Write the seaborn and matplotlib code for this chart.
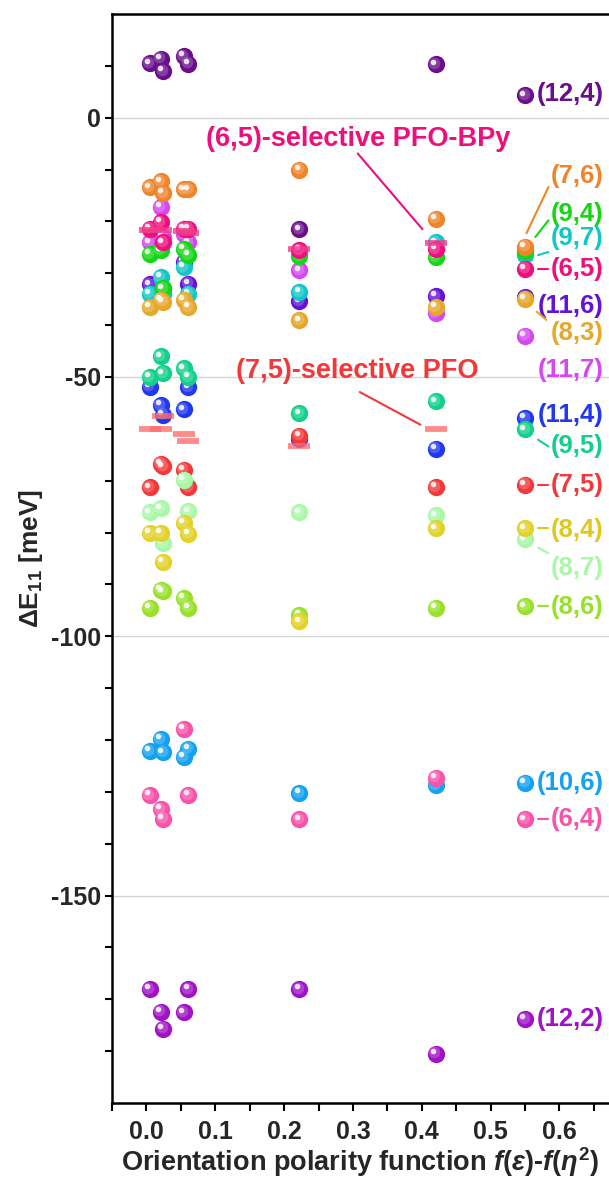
import numpy as np
import pandas as pd
import matplotlib
matplotlib.use("Agg")
import matplotlib.pyplot as plt
import seaborn as sns
from matplotlib import transforms
from matplotlib.colors import to_rgb

# ---------------- data ----------------
solvent_x = [0.005, 0.021, 0.024, 0.054, 0.061, 0.222, 0.42, 0.55]

chiralities = ["(12,4)", "(11,6)", "(11,7)", "(9,7)", "(9,4)", "(7,6)", "(8,3)", "(6,5)",
               "(11,4)", "(9,5)", "(7,5)", "(8,7)", "(8,6)", "(8,4)", "(10,6)", "(6,4)", "(12,2)"]

dE_12_4 = [10.5, 11.4, 9.0, 11.9, 10.4, -21.5, 10.3, 4.3]
dE_11_6 = [-32.1, -32.5, -33.0, -27.8, -32.0, -35.4, -34.4, -34.5]
dE_11_7 = [-24.0, -17.2, -23.0, -22.5, -24.0, -29.4, -37.7, -42.0]
dE_9_7 = [-33.9, -30.7, -34.0, -28.8, -33.9, -33.6, -24.0, -26.5]
dE_9_4 = [-26.3, -25.6, -32.9, -25.3, -26.5, -26.7, -26.9, -25.7]
dE_7_6 = [-13.4, -12.3, -14.5, -13.8, -13.8, -10.0, -19.5, -24.9]
dE_8_3 = [-36.5, -35.1, -35.5, -35.1, -36.5, -39.1, -36.5, -34.9]
dE_6_5 = [-21.4, -20.1, -24.0, -21.4, -21.4, -25.5, -25.3, -29.1]
dE_11_4 = [-51.9, -55.4, -57.3, -56.2, -52.0, -62.0, -63.8, -57.9]
dE_9_5 = [-50.0, -46.0, -49.3, -48.3, -50.0, -57.0, -54.7, -60.1]
dE_7_5 = [-71.3, -66.7, -67.2, -67.9, -71.3, -61.3, -71.2, -70.8]
dE_8_7 = [-76.1, -75.3, -82.0, -69.8, -75.9, -76.1, -76.7, -81.3]
dE_8_6 = [-94.5, -91.0, -91.3, -92.6, -94.5, -95.9, -94.5, -94.2]
dE_8_4 = [-80.1, -80.1, -85.7, -78.1, -80.2, -97.1, -79.2, -79.2]
dE_10_6 = [-122.1, -119.8, -122.4, -123.3, -121.7, -130.2, -128.7, -128.2]
dE_6_4 = [-130.6, -133.3, -135.2, -117.9, -130.6, -135.3, -127.3, -135.3]
dE_12_2 = [-168.0, -172.4, -175.7, -172.5, -168.0, -168.0, -180.5, -173.8]

all_dE = [dE_12_4, dE_11_6, dE_11_7, dE_9_7, dE_9_4, dE_7_6, dE_8_3, dE_6_5,
          dE_11_4, dE_9_5, dE_7_5, dE_8_7, dE_8_6, dE_8_4, dE_10_6, dE_6_4, dE_12_2]

colors = ["#6a0f8a", "#6412d6", "#d548f0", "#12c6c8", "#14d614", "#f0842a", "#e6a82a", "#ee0f7c",
          "#2238f0", "#12d08a", "#f23838", "#a8f8a8", "#98e02a", "#e2d22a", "#14a2f0", "#f852aa", "#a012c6"]

# selective-polymer reference values (short bars)
pfobpy_x = [0.005, 0.021, 0.054, 0.061, 0.222, 0.42]
pfobpy_dE = [-21.6, -21.6, -21.8, -22.2, -25.4, -24.2]
pfo_x = [0.005, 0.021, 0.024, 0.054, 0.061, 0.222, 0.42]
pfo_dE = [-60.1, -60.1, -57.6, -61.0, -62.3, -63.4, -60.1]

df = pd.DataFrame([(c, x, y) for c, ys in zip(chiralities, all_dE)
                   for x, y in zip(solvent_x, ys) if not np.isnan(y)],
                  columns=["chirality", "x", "dE"])

# ---------------- style ----------------
sns.set_style("ticks")
plt.rcParams["font.family"] = ["Liberation Sans", "DejaVu Sans"]
plt.rcParams["font.weight"] = "bold"
plt.rcParams["axes.labelweight"] = "bold"
plt.rcParams["axes.unicode_minus"] = False
plt.rcParams["mathtext.fontset"] = "custom"
plt.rcParams["mathtext.rm"] = "Liberation Sans:bold"
plt.rcParams["mathtext.it"] = "Liberation Sans:bold:italic"
plt.rcParams["mathtext.bf"] = "Liberation Sans:bold"

fig = plt.figure(figsize=(6.09, 11.8), dpi=100)
ax = fig.add_axes([112 / 609, 1 - 1103 / 1180, 1 - 112 / 609, (1103 - 14) / 1180])

ax.set_xlim(-0.05, 0.672)
ax.set_ylim(-190, 20)
ax.yaxis.grid(True, color="#d4d4d4", linewidth=1.0, zorder=0)
ax.set_axisbelow(True)

def lighten(c, f):
    r, g, b = to_rgb(c)
    return (r + (1 - r) * f, g + (1 - g) * f, b + (1 - b) * f)

mid_tr = transforms.offset_copy(ax.transData, fig=fig, x=-1.0, y=1.0, units="points")
hi_tr = transforms.offset_copy(ax.transData, fig=fig, x=-1.9, y=1.9, units="points")

for chir, col in zip(chiralities, colors):
    sub = df[df["chirality"] == chir]
    sns.scatterplot(data=sub, x="x", y="dE", color=col, s=155, linewidth=0,
                    legend=False, ax=ax, zorder=3)
    sns.scatterplot(data=sub, x="x", y="dE", color=lighten(col, 0.35), s=70, linewidth=0,
                    alpha=0.55, legend=False, ax=ax, zorder=3)
    ax.collections[-1].set_offset_transform(mid_tr)
    sns.scatterplot(data=sub, x="x", y="dE", color="white", s=16, linewidth=0,
                    alpha=0.85, legend=False, ax=ax, zorder=3)
    ax.collections[-1].set_offset_transform(hi_tr)

# selective polymer bars
sns.scatterplot(x=pfobpy_x, y=pfobpy_dE, marker="_", s=230, linewidth=4.2,
                color="#f03c8c", alpha=0.8, legend=False, ax=ax, zorder=4)
sns.scatterplot(x=pfo_x, y=pfo_dE, marker="_", s=230, linewidth=4.2,
                color="#ff6e6e", alpha=0.8, legend=False, ax=ax, zorder=4)

# annotations
ax.text(0.307, -4.2, "(6,5)-selective PFO-BPy", color="#ee0f7c", fontsize=19.5,
        fontweight="bold", ha="center", va="center", zorder=5)
ax.plot([0.307, 0.401], [-6.9, -21.5], color="#ee0f7c", lw=1.5, zorder=5)
ax.text(0.307, -48.8, "(7,5)-selective PFO", color="#f23838", fontsize=19.5,
        fontweight="bold", ha="center", va="center", zorder=5)
ax.plot([0.310, 0.398], [-52.9, -59.2], color="#f23838", lw=1.5, zorder=5)

# right-hand chirality labels: (label, y position, leader line)
label_layout = {
    "(12,4)": (4.5, None),
    "(7,6)": (-11.3, [(0.552, 0.584), (-22.3, -13.4)]),
    "(9,4)": (-18.5, [(0.565, 0.584), (-23.0, -19.8)]),
    "(9,7)": (-23.2, [(0.569, 0.584), (-26.5, -25.9)]),
    "(6,5)": (-29.1, [(0.569, 0.584), (-29.1, -29.1)]),
    "(11,6)": (-36.3, None),
    "(8,3)": (-41.6, [(0.567, 0.581), (-37.4, -39.0)]),
    "(11,7)": (-48.7, None),
    "(11,4)": (-57.3, None),
    "(9,5)": (-63.4, [(0.569, 0.584), (-62.1, -63.4)]),
    "(7,5)": (-70.8, [(0.569, 0.584), (-70.8, -70.8)]),
    "(8,4)": (-79.5, [(0.569, 0.584), (-79.2, -79.2)]),
    "(8,7)": (-86.8, [(0.569, 0.584), (-82.9, -84.0)]),
    "(8,6)": (-94.4, [(0.569, 0.584), (-94.2, -94.2)]),
    "(10,6)": (-128.2, None),
    "(6,4)": (-135.3, [(0.569, 0.584), (-135.3, -135.3)]),
    "(12,2)": (-173.8, None),
}
label_color = dict(zip(chiralities, colors))
label_color["(8,4)"] = "#e0c820"
for chir, (ly, lead) in label_layout.items():
    col = label_color[chir]
    ax.text(0.664, ly, chir, color=col, fontsize=18.5, fontweight="bold",
            ha="right", va="center", zorder=5)
    if lead is not None:
        ax.plot(lead[0], lead[1], color=col, lw=1.5, zorder=5)

# axes styling
ax.set_xticks([0.0, 0.1, 0.2, 0.3, 0.4, 0.5, 0.6])
ax.set_xticklabels(["0.0", "0.1", "0.2", "0.3", "0.4", "0.5", "0.6"])
ax.set_xticks(np.arange(-0.05, 0.67, 0.1), minor=True)
ax.set_yticks([0, -50, -100, -150])
ax.set_yticklabels(["0", "-50", "-100", "-150"])
ax.set_yticks([10, -10, -20, -30, -40, -60, -70, -80, -90, -110, -120, -130, -140, -160, -170, -180], minor=True)
ax.tick_params(axis="both", which="both", direction="out", width=1.5, labelsize=18, color="black")
ax.tick_params(axis="x", which="both", length=6, pad=6)
ax.tick_params(axis="y", which="both", length=5, pad=3)
for lab in ax.get_xticklabels() + ax.get_yticklabels():
    lab.set_fontweight("bold")

for side in ["left", "bottom", "top"]:
    ax.spines[side].set_linewidth(1.8)
    ax.spines[side].set_color("black")
ax.spines["right"].set_visible(False)

ax.set_xlabel(r"Orientation polarity function $f(\varepsilon)$-$f(\eta^2)$", fontsize=19.5,
              fontweight="bold", labelpad=1)
ax.set_ylabel(r"$\Delta$E$_{11}$ [meV]", fontsize=19, fontweight="bold", labelpad=4)

fig.savefig("out.png", dpi=100)
